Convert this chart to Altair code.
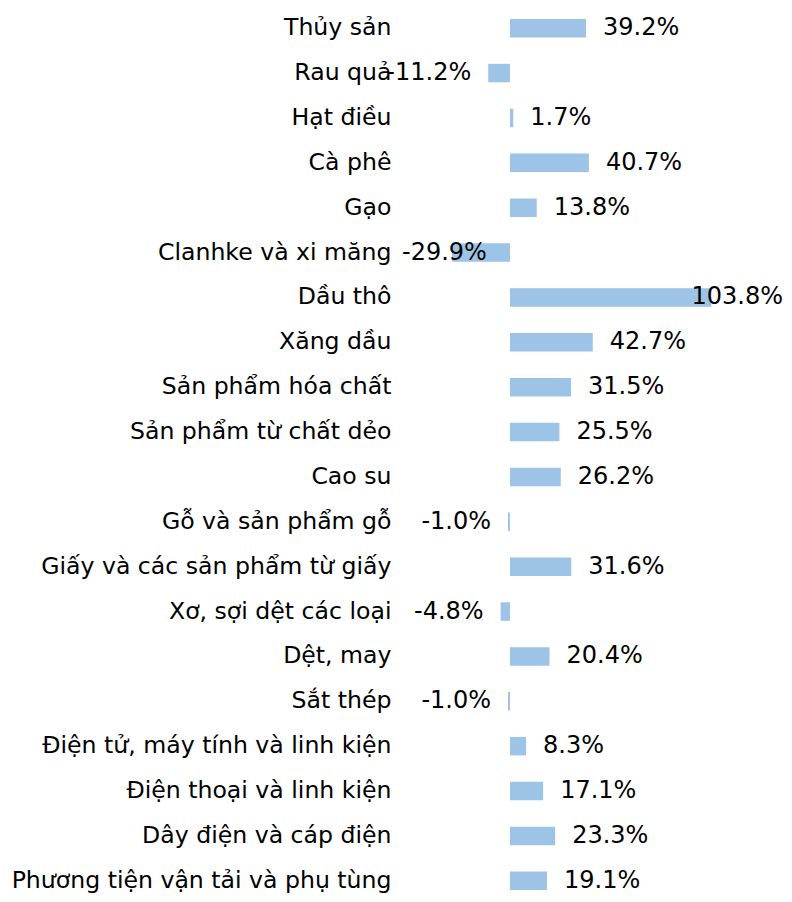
import altair as alt
import pandas as pd

categories = [
    "Thủy sản", "Rau quả", "Hạt điều", "Cà phê", "Gạo", "Clanhke và xi măng",
    "Dầu thô", "Xăng dầu", "Sản phẩm hóa chất", "Sản phẩm từ chất dẻo",
    "Cao su", "Gỗ và sản phẩm gỗ", "Giấy và các sản phẩm từ giấy",
    "Xơ, sợi dệt các loại", "Dệt, may", "Sắt thép",
    "Điện tử, máy tính và linh kiện", "Điện thoại và linh kiện",
    "Dây điện và cáp điện", "Phương tiện vận tải và phụ tùng",
]
values = [39.2, -11.2, 1.7, 40.7, 13.8, -29.9, 103.8, 42.7, 31.5, 25.5,
          26.2, -1.0, 31.6, -4.8, 20.4, -1.0, 8.3, 17.1, 23.3, 19.1]

df = pd.DataFrame({"cat": categories, "v": values})
df["label"] = [f"{v:.1f}%" for v in values]

XMIN, XMAX = -56.7, 141.3
FONT = "DejaVu Sans"
FS = 24
BAR = "#9DC3E6"

y = alt.Y("cat:N", sort=categories,
          scale=alt.Scale(paddingInner=0.588, paddingOuter=0.244, round=False,
                          range=[0, 893]),
          axis=alt.Axis(title=None, ticks=False, domain=False, labelFont=FONT,
                        labelFontSize=23.6, labelColor="#000000", labelPadding=9,
                        labelLimit=0))
xs = alt.Scale(domain=[XMIN, XMAX], nice=False, zero=False)
x = alt.X("v:Q", scale=xs, axis=None)

base = alt.Chart(df)
bars = base.mark_bar(color=BAR).encode(x=x, y=y)

txt = dict(font=FONT, fontSize=FS, color="#000000", baseline="middle")
pos = base.transform_filter("datum.v >= 0 && datum.v <= 90").mark_text(
    align="left", dx=17, **txt).encode(x=x, y=y, text="label:N")
neg = base.transform_filter("datum.v < 0 && datum.v >= -25").mark_text(
    align="right", dx=-17, **txt).encode(x=x, y=y, text="label:N")
hi = base.transform_filter("datum.v > 90").mark_text(
    align="right", dx=-1, **txt).encode(x=alt.datum(XMAX, scale=xs), y=y, text="label:N")
lo = base.transform_filter("datum.v < -25").mark_text(
    align="left", dx=2, **txt).encode(x=alt.datum(XMIN, scale=xs), y=y, text="label:N")

chart = alt.layer(bars, pos, neg, hi, lo).properties(
    width=384, height=886,
    autosize=alt.AutoSizeParams(type="none"),
    padding={"left": 392, "top": 0, "right": 0, "bottom": 0},
).configure(background="#ffffff").configure_view(stroke=None, strokeWidth=0)

chart.save("out.html", embed_options={"renderer": "svg", "actions": False})
